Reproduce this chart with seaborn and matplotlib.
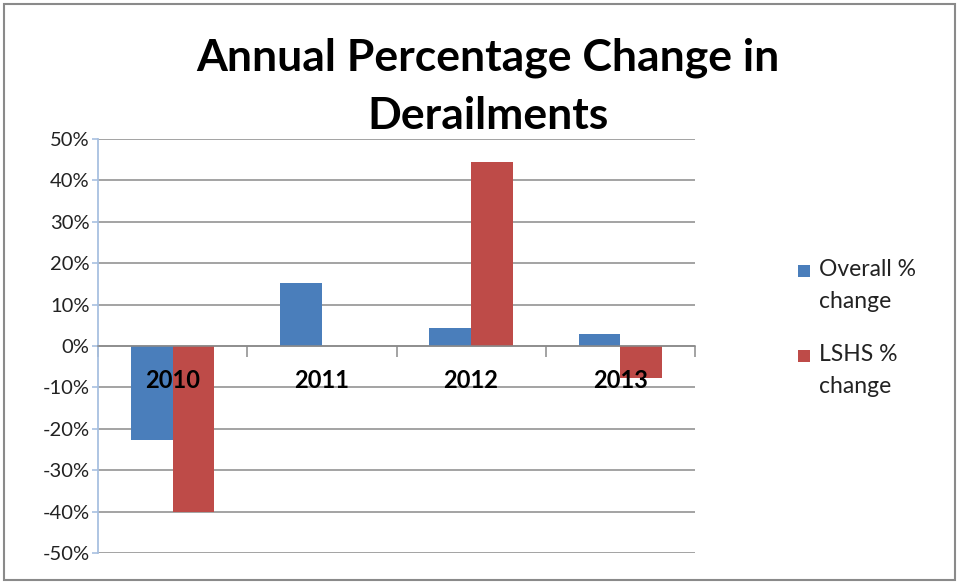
import matplotlib
matplotlib.use("Agg")
import matplotlib.pyplot as plt
import matplotlib.patches as mpatches
from matplotlib.ticker import FixedLocator, FuncFormatter
import pandas as pd
import seaborn as sns

# Annual percentage change in derailments
years = ["2010", "2011", "2012", "2013"]
overall_change = [-22.8, 15.3, 4.4, 3.0]
lshs_change = [-40.0, 0.0, 44.5, -7.7]
series_names = ["Overall % change", "LSHS % change"]
legend_labels = ["Overall %\nchange", "LSHS %\nchange"]
series_colors = ["#4A7EBB", "#BE4B48"]
y_ticks = [50, 40, 30, 20, 10, 0, -10, -20, -30, -40, -50]

df = pd.DataFrame({
    "Year": years * 2,
    "Change": overall_change + lshs_change,
    "Series": [series_names[0]] * len(years) + [series_names[1]] * len(years),
})

sns.set_theme(style="white")
plt.rcParams["font.family"] = ["Lato", "DejaVu Sans"]

W, H = 959, 582
fig = plt.figure(figsize=(W / 100, H / 100), dpi=100)
ax = fig.add_axes([98 / W, 1 - 553 / H, (695 - 98) / W, (553 - 139) / H])

sns.barplot(data=df, x="Year", y="Change", hue="Series", order=years,
            hue_order=series_names, palette=series_colors, width=0.56,
            saturation=1, linewidth=0, legend=False, ax=ax, zorder=2)

ax.set_xlim(-0.5, len(years) - 0.5)
ax.set_ylim(-50, 50)
ax.set_xlabel("")
ax.set_ylabel("")

# horizontal gridlines
for v in y_ticks:
    ax.axhline(v, color="#8a8a8a", lw=1.1, zorder=0)

# y axis: light blue line with small ticks
ax.yaxis.set_major_locator(FixedLocator(y_ticks))
ax.yaxis.set_major_formatter(FuncFormatter(lambda v, p: f"{int(v)}%"))
ax.tick_params(axis="y", which="major", left=True, length=4, width=1.2,
               color="#a8c0e0", labelsize=14.5, labelcolor="#222222", pad=2)
for s in ["top", "right"]:
    ax.spines[s].set_visible(False)
ax.spines["left"].set_color("#a8c0e0")
ax.spines["left"].set_linewidth(1.3)

# category axis sits on the zero line
ax.spines["bottom"].set_position(("data", 0))
ax.spines["bottom"].set_color("#8a8a8a")
ax.spines["bottom"].set_linewidth(1.1)
ax.set_xticks(range(len(years)))
ax.set_xticklabels([])
ax.tick_params(axis="x", which="major", bottom=False, length=0)
ax.set_xticks([i - 0.5 for i in range(len(years) + 1)], minor=True)
ax.tick_params(axis="x", which="minor", bottom=True, length=8, width=1.1,
               color="#8a8a8a", direction="out")

# category labels drawn over the bars, just below the zero line
for i, yr in enumerate(years):
    ax.annotate(yr, xy=(i, 0), xytext=(0, -35), textcoords="offset pixels",
                ha="center", va="center", fontsize=17, fontweight="bold",
                color="#000000", zorder=10, annotation_clip=False)

# title
fig.text(488 / W, 1 - 87 / H, "Annual Percentage Change in\nDerailments",
         ha="center", va="center", fontsize=32, fontweight="bold",
         linespacing=1.55, color="#000000")

# legend: square markers aligned with the first line of each label
legend_y = [271, 356]
for c, lab, y in zip(series_colors, legend_labels, legend_y):
    fig.patches.append(mpatches.Rectangle((798 / W, 1 - (y + 6) / H), 12 / W, 12 / H,
                                          transform=fig.transFigure,
                                          facecolor=c, edgecolor="none"))
    fig.text(819 / W, 1 - (y - 12) / H, lab, ha="left", va="top",
             fontsize=16.5, linespacing=1.62, color="#222222")

# outer frame
fig.patches.append(mpatches.Rectangle((3.5 / W, 2 / H), 951.5 / W, 576 / H,
                                      transform=fig.transFigure, fill=False,
                                      edgecolor="#8a8a8a", lw=1.5))

fig.savefig("out.png", dpi=100, facecolor="white")
